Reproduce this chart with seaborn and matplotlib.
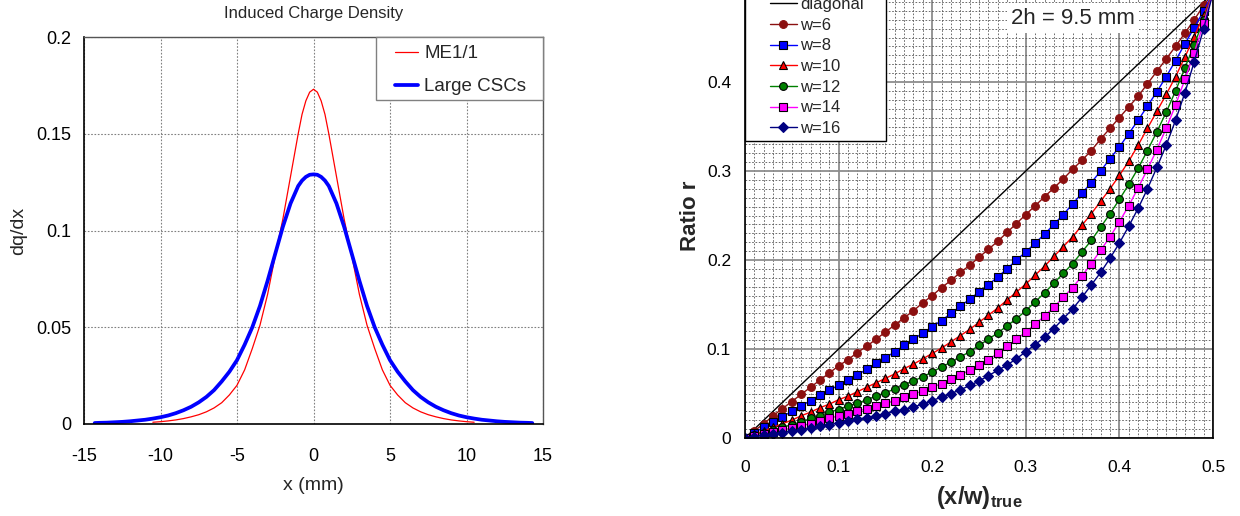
import numpy as np
import pandas as pd
import matplotlib
matplotlib.use("Agg")
import matplotlib.pyplot as plt
import seaborn as sns
from matplotlib.ticker import MultipleLocator
from matplotlib.patches import Rectangle

sns.set_style("white")
plt.rcParams['font.family'] = ['Liberation Sans', 'DejaVu Sans']
plt.rcParams['mathtext.fontset'] = 'custom'
plt.rcParams['mathtext.rm'] = 'Liberation Sans'
plt.rcParams['mathtext.bf'] = 'Liberation Sans:bold'
plt.rcParams['mathtext.it'] = 'Liberation Sans:italic'

# ---------------- Left panel data: induced charge density ----------------
x_me11 = [-10.5, -10.0, -9.5, -9.0, -8.5, -8.0, -7.5, -7.0, -6.5, -6.0, -5.5, -5.0,
          -4.5, -4.0, -3.5, -3.0, -2.5, -2.0, -1.5, -1.25, -1.0, -0.75, -0.5, -0.25, 0.0,
          0.25, 0.5, 0.75, 1.0, 1.25, 1.5, 2.0, 2.5, 3.0, 3.5, 4.0, 4.5, 5.0, 5.5, 6.0,
          6.5, 7.0, 7.5, 8.0, 8.5, 9.0, 9.5, 10.0, 10.5]
y_me11 = [0.0009, 0.0012, 0.0016, 0.0021, 0.0028, 0.0037, 0.0048, 0.0063, 0.0083, 0.011, 0.015, 0.020,
          0.028, 0.039, 0.051, 0.067, 0.087, 0.106, 0.128, 0.139, 0.150, 0.160, 0.167, 0.1715, 0.173,
          0.1715, 0.167, 0.160, 0.150, 0.139, 0.128, 0.106, 0.087, 0.067, 0.051, 0.039, 0.028, 0.020, 0.015, 0.011,
          0.0083, 0.0063, 0.0048, 0.0037, 0.0028, 0.0021, 0.0016, 0.0012, 0.0009]

x_large = [-14.3, -14.0, -13.5, -13.0, -12.5, -12.0, -11.5, -11.0, -10.5, -10.0, -9.5, -9.0,
           -8.5, -8.0, -7.5, -7.0, -6.5, -6.0, -5.5, -5.0, -4.5, -4.0, -3.5, -3.0,
           -2.5, -2.0, -1.5, -1.0, -0.75, -0.5, -0.25, 0.0, 0.25, 0.5, 0.75, 1.0, 1.5, 2.0, 2.5, 3.0,
           3.5, 4.0, 4.5, 5.0, 5.5, 6.0, 6.5, 7.0, 7.5, 8.0, 8.5, 9.0,
           9.5, 10.0, 10.5, 11.0, 11.5, 12.0, 12.5, 13.0, 13.5, 14.0, 14.3]
y_large = [0.0005, 0.0006, 0.0007, 0.0009, 0.0011, 0.0014, 0.0018, 0.0022, 0.0028, 0.0035, 0.0044, 0.0056,
           0.0071, 0.0089, 0.0112, 0.014, 0.0175, 0.022, 0.027, 0.033, 0.041, 0.050, 0.061, 0.074,
           0.088, 0.102, 0.114, 0.123, 0.1258, 0.1277, 0.1288, 0.129, 0.1288, 0.1277, 0.1258, 0.123,
           0.114, 0.102, 0.088, 0.074,
           0.061, 0.050, 0.041, 0.033, 0.027, 0.022, 0.0175, 0.014, 0.0112, 0.0089, 0.0071, 0.0056,
           0.0044, 0.0035, 0.0028, 0.0022, 0.0018, 0.0014, 0.0011, 0.0009, 0.0007, 0.0006, 0.0005]

# ---------------- Right panel data: ratio r vs (x/w)_true ----------------
xw_true = [0.00, 0.01, 0.02, 0.03, 0.04, 0.05, 0.06, 0.07, 0.08, 0.09,
           0.10, 0.11, 0.12, 0.13, 0.14, 0.15, 0.16, 0.17, 0.18, 0.19,
           0.20, 0.21, 0.22, 0.23, 0.24, 0.25, 0.26, 0.27, 0.28, 0.29,
           0.30, 0.31, 0.32, 0.33, 0.34, 0.35, 0.36, 0.37, 0.38, 0.39,
           0.40, 0.41, 0.42, 0.43, 0.44, 0.45, 0.46, 0.47, 0.48, 0.49, 0.50]

diag_x = [0.0, 0.5]
diag_y = [0.0, 0.5]

r_w6 = [0.000, 0.008, 0.016, 0.025, 0.033, 0.041, 0.049, 0.057, 0.065, 0.073,
        0.081, 0.088, 0.096, 0.103, 0.111, 0.119, 0.127, 0.135, 0.143, 0.152,
        0.160, 0.169, 0.177, 0.186, 0.194, 0.203, 0.212, 0.221, 0.231, 0.241,
        0.251, 0.261, 0.271, 0.281, 0.291, 0.302, 0.312, 0.323, 0.336, 0.348,
        0.360, 0.372, 0.384, 0.398, 0.412, 0.426, 0.440, 0.455, 0.470, 0.486, 0.500]
r_w8 = [0.000, 0.006, 0.012, 0.018, 0.024, 0.030, 0.036, 0.042, 0.048, 0.054,
        0.059, 0.065, 0.071, 0.077, 0.084, 0.090, 0.097, 0.104, 0.111, 0.118,
        0.125, 0.132, 0.140, 0.148, 0.156, 0.164, 0.172, 0.181, 0.190, 0.200,
        0.209, 0.219, 0.229, 0.240, 0.251, 0.263, 0.275, 0.287, 0.300, 0.314,
        0.327, 0.342, 0.357, 0.373, 0.389, 0.406, 0.424, 0.443, 0.461, 0.480, 0.500]
r_w10 = [0.000, 0.004, 0.008, 0.012, 0.016, 0.020, 0.025, 0.029, 0.034, 0.038,
         0.043, 0.047, 0.052, 0.057, 0.062, 0.067, 0.072, 0.078, 0.083, 0.089,
         0.095, 0.101, 0.108, 0.115, 0.122, 0.130, 0.138, 0.146, 0.155, 0.164,
         0.173, 0.183, 0.193, 0.204, 0.215, 0.226, 0.239, 0.252, 0.266, 0.280,
         0.295, 0.311, 0.329, 0.348, 0.367, 0.386, 0.406, 0.428, 0.451, 0.475, 0.500]
r_w12 = [0.000, 0.003, 0.006, 0.009, 0.012, 0.015, 0.018, 0.022, 0.025, 0.029,
         0.032, 0.036, 0.039, 0.043, 0.047, 0.051, 0.055, 0.060, 0.064, 0.069,
         0.074, 0.080, 0.085, 0.091, 0.097, 0.104, 0.111, 0.118, 0.126, 0.134,
         0.143, 0.153, 0.163, 0.174, 0.185, 0.196, 0.209, 0.222, 0.237, 0.252,
         0.268, 0.285, 0.303, 0.323, 0.344, 0.366, 0.390, 0.416, 0.442, 0.470, 0.500]
r_w14 = [0.000, 0.002, 0.0045, 0.007, 0.009, 0.011, 0.014, 0.016, 0.019, 0.022,
         0.025, 0.027, 0.030, 0.033, 0.036, 0.039, 0.042, 0.046, 0.049, 0.053,
         0.057, 0.061, 0.066, 0.071, 0.076, 0.082, 0.088, 0.095, 0.103, 0.111,
         0.119, 0.128, 0.137, 0.147, 0.158, 0.169, 0.182, 0.196, 0.211, 0.226,
         0.243, 0.261, 0.281, 0.302, 0.324, 0.348, 0.374, 0.403, 0.433, 0.466, 0.500]
r_w16 = [0.000, 0.0015, 0.003, 0.0045, 0.006, 0.0075, 0.009, 0.011, 0.013, 0.015,
         0.017, 0.019, 0.021, 0.023, 0.025, 0.027, 0.030, 0.032, 0.035, 0.038,
         0.042, 0.046, 0.050, 0.054, 0.059, 0.064, 0.070, 0.076, 0.082, 0.089,
         0.097, 0.105, 0.113, 0.123, 0.134, 0.145, 0.158, 0.172, 0.186, 0.202,
         0.219, 0.238, 0.258, 0.280, 0.304, 0.329, 0.357, 0.388, 0.423, 0.460, 0.500]

series_labels = ["w=6", "w=8", "w=10", "w=12", "w=14", "w=16"]
series_values = [r_w6, r_w8, r_w10, r_w12, r_w14, r_w16]

left_xticks = [-15, -10, -5, 0, 5, 10, 15]
left_yticks = [0, 0.05, 0.1, 0.15, 0.2]
left_yticklabels = ["0", "0.05", "0.1", "0.15", "0.2"]
right_ticks = [0, 0.1, 0.2, 0.3, 0.4, 0.5]
right_ticklabels = ["0", "0.1", "0.2", "0.3", "0.4", "0.5"]

# styles
styles = {
    "w=6":  dict(color="#8B1010", marker="o", ms=5.6, mec="#8B1010", mfc="#8B1010"),
    "w=8":  dict(color="#0000FF", marker="s", ms=5.6, mec="black", mfc="#0000FF"),
    "w=10": dict(color="#FF0000", marker="^", ms=6.4, mec="black", mfc="#FF0000"),
    "w=12": dict(color="#008000", marker="o", ms=5.6, mec="black", mfc="#008000"),
    "w=14": dict(color="#FF00FF", marker="s", ms=5.6, mec="black", mfc="#FF00FF"),
    "w=16": dict(color="#000080", marker="D", ms=4.8, mec="#000080", mfc="#000080"),
}

W, H = 1240, 516
fig = plt.figure(figsize=(12.4, 5.16), dpi=100)

# ---------------- Left panel ----------------
ax1 = fig.add_axes([84 / W, 1 - 424 / H, (543 - 84) / W, (424 - 37) / H])
df_me = pd.DataFrame({"x": x_me11, "y": y_me11})
df_lg = pd.DataFrame({"x": x_large, "y": y_large})
sns.lineplot(data=df_me, x="x", y="y", ax=ax1, color="#FF0000", lw=0.9,
             label="ME1/1", estimator=None, sort=False)
sns.lineplot(data=df_lg, x="x", y="y", ax=ax1, color="#0000FF", lw=2.7,
             label="Large CSCs", estimator=None, sort=False)
ax1.set_xlim(-15, 15)
ax1.set_ylim(0, 0.2)
ax1.set_xticks(left_xticks)
ax1.set_xticklabels([str(t) for t in left_xticks])
ax1.set_yticks(left_yticks)
ax1.set_yticklabels(left_yticklabels)
ax1.tick_params(axis="both", length=0, labelsize=13, colors="black")
ax1.tick_params(axis="x", pad=17)
ax1.tick_params(axis="y", pad=9)
ax1.grid(True, color="#808080", lw=0.8, ls=(0, (1.5, 1.5)))
ax1.set_axisbelow(True)
for side in ["left", "bottom"]:
    ax1.spines[side].set_color("black")
    ax1.spines[side].set_linewidth(1.2)
for side in ["top", "right"]:
    ax1.spines[side].set_color("#555555")
    ax1.spines[side].set_linewidth(1.0)
ax1.set_xlabel("x (mm)", fontsize=14, labelpad=9)
ax1.set_ylabel("dq/dx", fontsize=14, labelpad=7)
ax1.set_title("Induced Charge Density", fontsize=12, pad=14)
ax1.add_patch(Rectangle((376 / W, 1 - 100 / H), 167 / W, 63 / H,
                        transform=fig.transFigure, clip_on=False, zorder=4.5,
                        facecolor="white", edgecolor="#808080", lw=1.0))
leg1 = ax1.legend(loc="upper left", bbox_to_anchor=(389 / W, 1 - 39 / H),
                  bbox_transform=fig.transFigure, fontsize=13.5, frameon=False,
                  borderaxespad=0, borderpad=0.34, labelspacing=0.84,
                  handlelength=1.2, handletextpad=0.35)
leg1.set_zorder(5)

# ---------------- Right panel ----------------
ax2 = fig.add_axes([745 / W, 1 - 438 / H, (1213 - 745) / W, (438 + 7) / H])
sns.lineplot(x=diag_x, y=diag_y, ax=ax2, color="black", lw=1.0,
             label="diagonal", estimator=None, sort=False)
for lab, vals in zip(series_labels, series_values):
    st = styles[lab]
    sns.lineplot(x=xw_true, y=vals, ax=ax2, color=st["color"], lw=1.0,
                 marker=st["marker"], markersize=st["ms"],
                 markeredgecolor=st["mec"], markerfacecolor=st["mfc"],
                 markeredgewidth=0.8, label=lab, estimator=None, sort=False)
ax2.set_xlim(0, 0.5)
ax2.set_ylim(0, 0.5)
ax2.set_xticks(right_ticks)
ax2.set_xticklabels(right_ticklabels)
ax2.set_yticks(right_ticks)
ax2.set_yticklabels(right_ticklabels)
ax2.xaxis.set_minor_locator(MultipleLocator(0.01))
ax2.yaxis.set_minor_locator(MultipleLocator(0.01))
ax2.tick_params(axis="both", which="both", length=0, labelsize=12.5, colors="black")
ax2.tick_params(axis="x", pad=16)
ax2.tick_params(axis="y", pad=10)
ax2.grid(True, which="minor", color="#555555", lw=0.6, ls=(0, (2.0, 2.0)))
ax2.grid(True, which="major", color="#8c8c8c", lw=1.3, ls="-")
ax2.set_axisbelow(True)
for side in ["left", "bottom", "right", "top"]:
    ax2.spines[side].set_color("black")
    ax2.spines[side].set_linewidth(1.2)
ax2.set_xlabel(r"$\mathbf{(x/w)_{true}}$", fontsize=17, labelpad=6)
ax2.set_ylabel("Ratio r", fontsize=16, fontweight="bold", labelpad=4)
ax2.add_patch(Rectangle((745 / W, 1 - 141 / H), 141 / W, 160 / H,
                        transform=fig.transFigure, clip_on=False, zorder=4.5,
                        facecolor="white", edgecolor="black", lw=1.0))
leg2 = ax2.legend(loc="lower left", bbox_to_anchor=(765 / W, 1 - 141 / H),
                  bbox_transform=fig.transFigure, fontsize=12, frameon=False,
                  borderaxespad=0, borderpad=0.3, labelspacing=0.34,
                  handlelength=1.6, handletextpad=0.2)
leg2.set_zorder(5)

fig.text(1073 / W, 1 - 18 / H, "2h = 9.5 mm", fontsize=16, ha="center", va="center",
         bbox=dict(facecolor="white", edgecolor="none", pad=3))

fig.savefig("out.png", dpi=100)
